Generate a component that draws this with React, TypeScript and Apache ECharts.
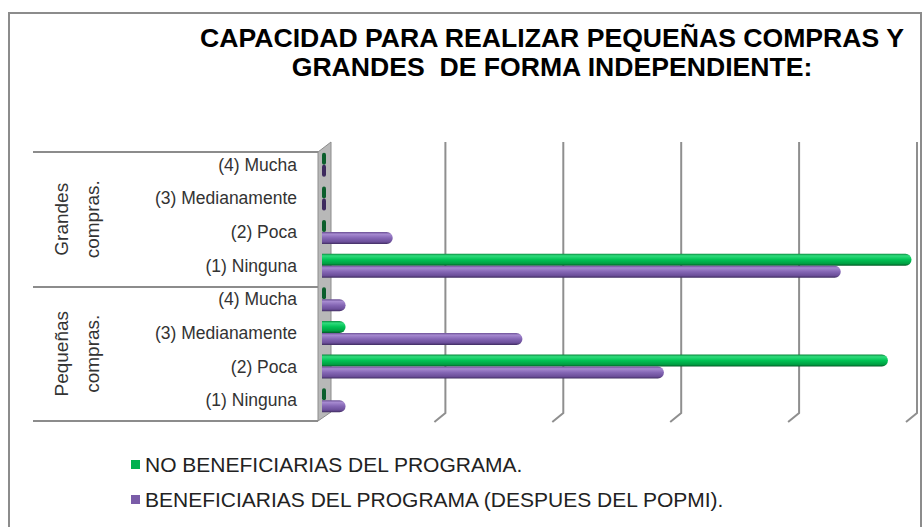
import React, { useEffect, useRef } from 'react';
import * as echarts from 'echarts';

const titleLines = ['CAPACIDAD PARA REALIZAR PEQUEÑAS COMPRAS Y', 'GRANDES  DE FORMA INDEPENDIENTE:'];
const groups = ['Grandes compras.', 'Pequeñas compras.'];
const levels = ['(4) Mucha', '(3) Medianamente', '(2) Poca', '(1) Ninguna'];
const seriesNames = ['NO BENEFICIARIAS DEL PROGRAMA.', 'BENEFICIARIAS DEL PROGRAMA (DESPUES DEL POPMI).'];
const noBeneficiarias = [0, 0, 0, 100, 0, 4, 96, 0];
const beneficiarias = [0, 0, 12, 88, 4, 34, 58, 4];
const xTicks = [20, 40, 60, 80, 100];

const FONT = "'Liberation Sans', Arial, sans-serif";

export default function App() {
  const ref = useRef<HTMLDivElement>(null);
  useEffect(() => {
    document.body.style.margin = '0';
    if (!ref.current) return;
    const chart = echarts.init(ref.current, null, { renderer: 'svg' });
    const categories = groups.flatMap((g, gi) => levels.map((l) => `${gi}|${l}`));

    const grad = (stops: [number, string][]) =>
      new echarts.graphic.LinearGradient(0, 0, 0, 1, stops.map(([offset, color]) => ({ offset, color })));
    const greenFill = grad([[0, '#0a8a3e'], [0.18, '#2fdc7c'], [0.5, '#00c254'], [0.82, '#00a043'], [1, '#045c28']]);
    const purpleFill = grad([[0, '#6a4f94'], [0.18, '#a68ad0'], [0.5, '#8466b4'], [0.82, '#6c4f9a'], [1, '#3f2c60']]);

    const mkData = (vals: number[], fill: any, zeroColor: string) =>
      vals.map((v) => (v === 0 ? { value: v, itemStyle: { color: zeroColor, borderRadius: 2 } } : { value: v, itemStyle: { color: fill } }));

    const option: any = {
      animation: false,
      backgroundColor: '#ffffff',
      graphic: [
        {
          type: 'rect',
          shape: { x: 9, y: 13, width: 912, height: 540 },
          style: { fill: 'none', stroke: '#8c8c8c', lineWidth: 2 },
          silent: true,
          z: 0,
        },
        {
          type: 'text',
          x: 552,
          y: 23,
          style: {
            text: titleLines.join('\n'),
            textAlign: 'center',
            textVerticalAlign: 'top',
            font: `bold 26.6px ${FONT}`,
            lineHeight: 29,
            fill: '#000',
          },
          z: 10,
        },
      ],
      legend: {
        orient: 'vertical',
        left: 126,
        top: 449,
        itemWidth: 9,
        itemHeight: 9,
        itemGap: 14,
        icon: 'rect',
        textStyle: { fontSize: 21, color: '#222', fontFamily: FONT, lineHeight: 20 },
        data: [
          { name: seriesNames[0], itemStyle: { color: '#00b050' } },
          { name: seriesNames[1], itemStyle: { color: '#7a5ca8' } },
        ],
      },
      grid: [
        { left: 322, right: 11.5, top: 148, height: 269 },
        { left: 318, width: 1, top: 152, height: 269 },
      ],
      xAxis: [
        { type: 'value', gridIndex: 0, min: 0, max: 100, interval: 20, show: false },
        { type: 'value', gridIndex: 1, min: 0, max: 1, show: false },
      ],
      yAxis: [
        {
          type: 'category',
          gridIndex: 0,
          data: categories,
          inverse: true,
          axisLine: { show: false },
          axisTick: { show: false },
          axisLabel: {
            margin: 25,
            fontSize: 17.5,
            color: '#333',
            fontFamily: FONT,
            formatter: (v: string) => v.split('|')[1],
          },
        },
        {
          type: 'category',
          gridIndex: 1,
          data: groups,
          inverse: true,
          axisLine: { show: false },
          axisTick: { show: true, length: 285, lineStyle: { color: '#8c8c8c', width: 2 } },
          axisLabel: {
            rotate: 90,
            margin: 210,
            fontSize: 19,
            lineHeight: 31,
            color: '#333',
            fontFamily: FONT,
            formatter: (v: string) => v.replace(' ', '\n'),
          },
        },
      ],
      series: [
        {
          type: 'custom',
          name: 'wall',
          xAxisIndex: 0,
          yAxisIndex: 0,
          clip: false,
          silent: true,
          z: 1,
          data: [[0, 0]],
          encode: { x: 0, y: 1 },
          renderItem: (params: any, api: any) => {
            const cs = params.coordSys;
            const x0 = api.coord([0, 0])[0];
            return {
              type: 'polygon',
              shape: {
                points: [
                  [x0 - 4, cs.y + 4],
                  [x0 + 9, cs.y - 6],
                  [x0 + 9, cs.y + cs.height - 5],
                  [x0 - 4, cs.y + cs.height + 4],
                ],
              },
              style: { fill: '#b8b8b8', stroke: '#8c8c8c', lineWidth: 1 },
            };
          },
        },
        {
          type: 'custom',
          name: 'gridlines',
          xAxisIndex: 0,
          yAxisIndex: 0,
          clip: false,
          silent: true,
          z: 1,
          data: xTicks.map((v) => [v, 0]),
          encode: { x: 0, y: 1 },
          renderItem: (params: any, api: any) => {
            const cs = params.coordSys;
            const x = api.coord([api.value(0), 0])[0];
            const top = cs.y - 6;
            const bend = cs.y + cs.height - 4;
            const bottom = cs.y + cs.height + 5;
            return {
              type: 'polyline',
              shape: { points: [[x + 5.5, top], [x + 5.5, bend], [x - 5.5, bottom]] },
              style: { stroke: '#8f8f8f', lineWidth: 2, fill: null },
            };
          },
        },
        {
          type: 'bar',
          name: seriesNames[0],
          xAxisIndex: 0,
          yAxisIndex: 0,
          barWidth: 12,
          barGap: '0%',
          barMinHeight: 4,
          z: 3,
          itemStyle: { borderRadius: [0, 6, 6, 0] },
          data: mkData(noBeneficiarias, greenFill, '#0b5e2c'),
        },
        {
          type: 'bar',
          name: seriesNames[1],
          xAxisIndex: 0,
          yAxisIndex: 0,
          barWidth: 12,
          barGap: '0%',
          barMinHeight: 4,
          z: 3,
          itemStyle: { borderRadius: [0, 6, 6, 0] },
          data: mkData(beneficiarias, purpleFill, '#3d2a5e'),
        },
      ],
    };
    chart.setOption(option);
    return () => chart.dispose();
  }, []);
  return <div ref={ref} style={{ width: 923, height: 527 }} />;
}
